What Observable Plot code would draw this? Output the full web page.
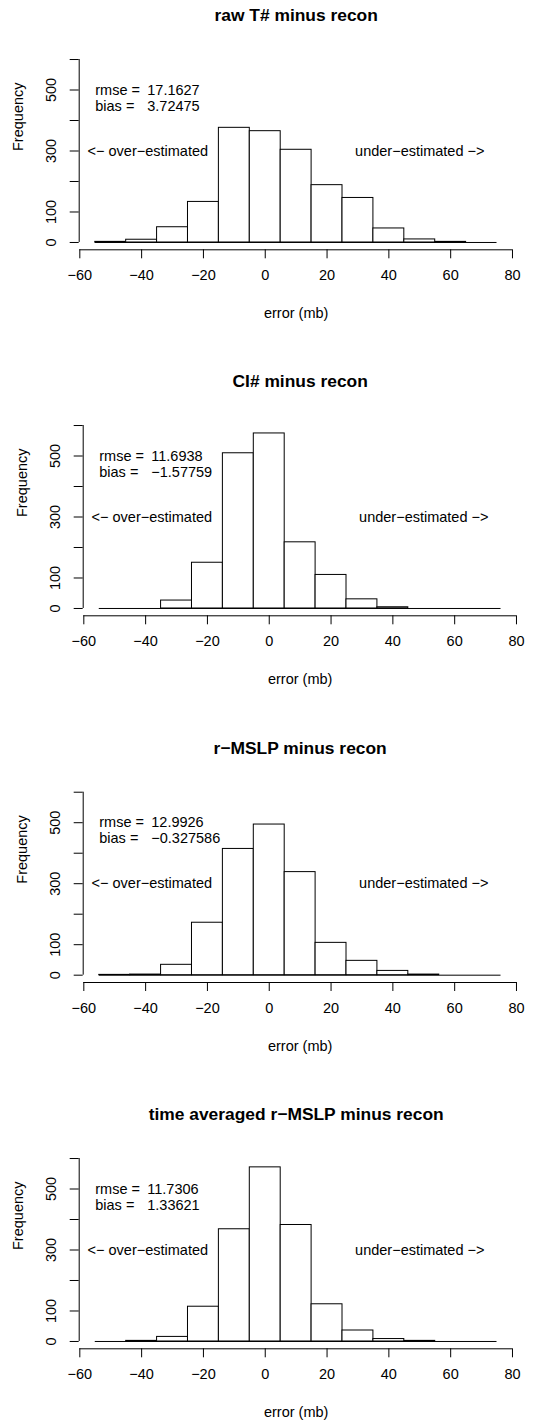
<!DOCTYPE html>
<html><head><meta charset="utf-8">
<script src="https://cdn.jsdelivr.net/npm/d3@7"></script>
<script src="https://cdn.jsdelivr.net/npm/@observablehq/plot@0.6"></script>
<style>
body{margin:0;background:#fff;}
#chart svg{display:block;}
</style>
</head><body><div id="chart"></div>
<script>
// ---- data ----
const binEdges = [-55, -45, -35, -25, -15, -5, 5, 15, 25, 35, 45, 55, 65, 75];
const titles = ["raw T# minus recon", "CI# minus recon", "r−MSLP minus recon", "time averaged r−MSLP minus recon"];
const countsRawT = [2, 9, 50, 133, 376, 365, 304, 188, 146, 46, 10, 2, 0];
const countsCI = [0, 0, 26, 150, 509, 574, 217, 110, 30, 4, 0, 0, 0];
const countsRMSLP = [1, 2, 34, 172, 414, 494, 338, 106, 47, 14, 2, 0, 0];
const countsTimeAvg = [0, 2, 15, 114, 368, 571, 382, 122, 36, 8, 2, 0, 0];
const rmseValues = ["17.1627", "11.6938", "12.9926", "11.7306"];
const biasValues = ["3.72475", "−1.57759", "−0.327586", "1.33621"];
const xTicks = [-60, -40, -20, 0, 20, 40, 60, 80];
const yTicks = [0, 100, 200, 300, 400, 500, 600];
const yTickLabels = [0, 100, 300, 500];
const statLabels = ["rmse =", "bias ="];
const directionLabels = ["<− over−estimated", "under−estimated −>"];
const xAxisTitle = "error (mb)";
const yAxisTitle = "Frequency";

// ---- layout (pixels) ----
const layout = [
  {height: 350, top: 51.7, bottom: 100.7, left: 78.7, right: 39.4},
  {height: 366, top: 67.7, bottom: 100.7, left: 82.7, right: 35.4},
  {height: 366, top: 68.4, bottom: 100.0, left: 82.7, right: 35.4},
  {height: 342, top: 68.7, bottom: 75.7, left: 78.7, right: 39.4}
];
const allCounts = [countsRawT, countsCI, countsRMSLP, countsTimeAvg];
const fmt = d => d < 0 ? "−" + Math.abs(d) : String(d);
const font = "'Liberation Sans', Arial, Helvetica, sans-serif";

allCounts.forEach((counts, i) => {
  const L = layout[i];
  const bins = counts.map((c, j) => ({x1: binEdges[j], x2: binEdges[j + 1], count: c}));
  const chart = Plot.plot({
    width: 552,
    height: L.height,
    marginTop: L.top,
    marginBottom: L.bottom,
    marginLeft: L.left,
    marginRight: L.right,
    style: {fontFamily: font, fontSize: "14.5px", background: "white", color: "black"},
    x: {domain: [-60.2, 80.2], axis: null},
    y: {domain: [-24, 624], axis: null},
    marks: [
      // baseline of empty bins
      Plot.ruleY([0], {x1: binEdges[0], x2: binEdges[binEdges.length - 1], stroke: "black"}),
      Plot.rectY(bins, {x1: "x1", x2: "x2", y: "count", fill: "white", stroke: "black", strokeWidth: 1}),
      // x axis
      Plot.ruleY([-24], {x1: xTicks[0], x2: xTicks[xTicks.length - 1], stroke: "black"}),
      Plot.axisX({ticks: xTicks, tickSize: 9, tickPadding: 11, tickFormat: fmt, label: null, fontSize: 14.5}),
      // y axis
      Plot.ruleX([-60.2], {y1: yTicks[0], y2: yTicks[yTicks.length - 1], stroke: "black"}),
      Plot.axisY({ticks: yTicks, tickSize: 9, tickFormat: () => "", label: null}),
      Plot.text(yTickLabels, {x: -60.2, y: d => d, text: d => String(d), dx: -27.6, rotate: -90,
        lineAnchor: "middle", textAnchor: "middle", fontSize: 14.5}),
      // axis titles
      Plot.text([xAxisTitle], {frameAnchor: "bottom", lineAnchor: "middle", dy: 64, fontSize: 14.5}),
      Plot.text([yAxisTitle], {frameAnchor: "left", lineAnchor: "middle", dx: -60.5, rotate: -90, fontSize: 14.5}),
      // main title
      Plot.text([titles[i]], {frameAnchor: "top", lineAnchor: "middle", dy: -36.7, fontWeight: "bold", fontSize: 17.4}),
      // stats
      Plot.text([statLabels[0]], {x: -55, y: 500, textAnchor: "start", fontSize: 14.5}),
      Plot.text([statLabels[1]], {x: -55, y: 500, dy: 16, textAnchor: "start", fontSize: 14.5}),
      Plot.text([rmseValues[i]], {x: -55, y: 500, dx: 52, textAnchor: "start", fontSize: 14.5}),
      Plot.text([biasValues[i]], {x: -55, y: 500, dx: 52, dy: 16, textAnchor: "start", fontSize: 14.5}),
      // direction labels
      Plot.text([directionLabels[0]], {x: -38, y: 300, fontSize: 14.5}),
      Plot.text([directionLabels[1]], {x: 50, y: 300, fontSize: 14.5})
    ]
  });
  document.getElementById("chart").appendChild(chart);
});
</script>
</body></html>
